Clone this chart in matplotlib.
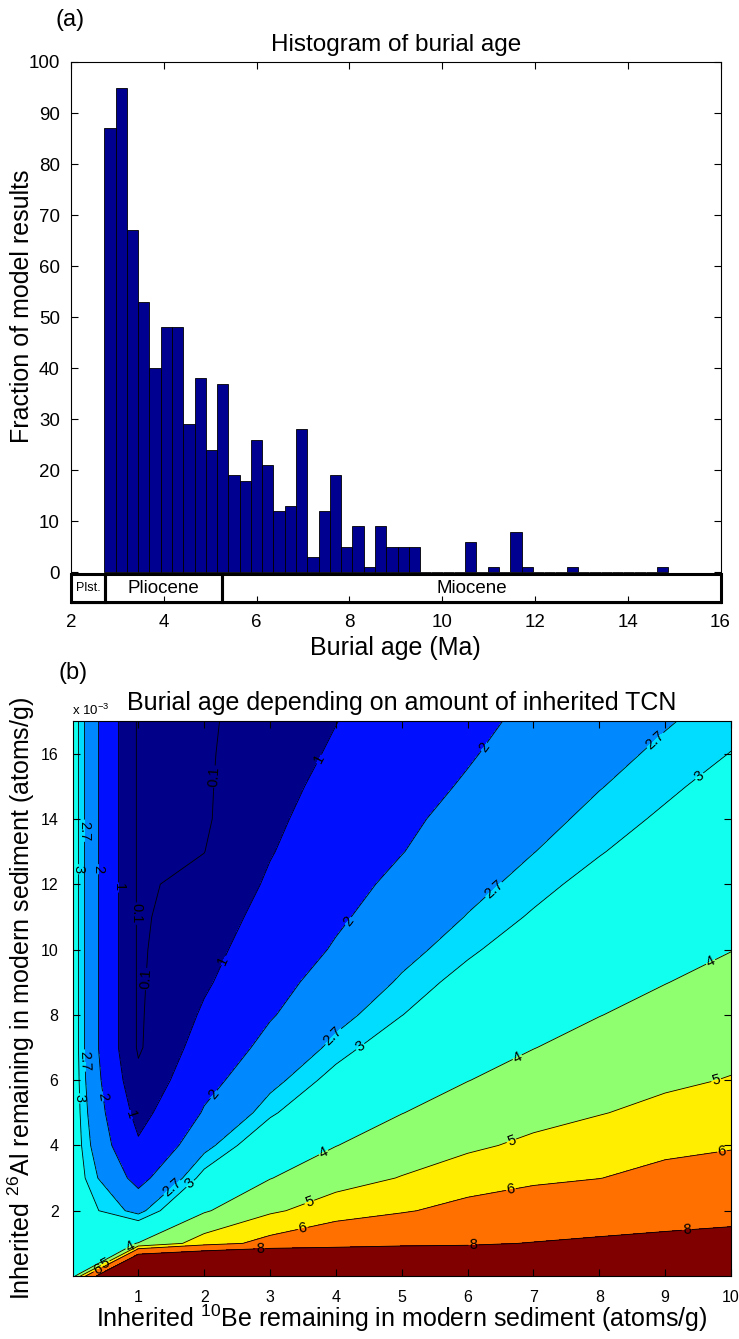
import numpy as np
import matplotlib
matplotlib.use("Agg")
import matplotlib.pyplot as plt
from matplotlib.patches import Rectangle

plt.rcParams['font.family'] = ['Liberation Sans', 'DejaVu Sans']
plt.rcParams['mathtext.fontset'] = 'custom'
plt.rcParams['mathtext.rm'] = 'Liberation Sans'
plt.rcParams['mathtext.it'] = 'Liberation Sans:italic'

# ---- (a) histogram of burial age ----
bin_start = 2.718
bin_width = 0.2431
counts = [87, 95, 67, 53, 40, 48, 48, 29, 38, 24,
          37, 19, 18, 26, 21, 12, 13, 28, 3, 12,
          19, 5, 9, 1, 9, 5, 5, 5, 0, 0,
          0, 0, 6, 0, 1, 0, 8, 1, 0, 0,
          0, 1, 0, 0, 0, 0, 0, 0, 0, 1]
epochs = ['Plst.', 'Pliocene', 'Miocene']
epoch_bounds = [2.0, 2.73, 5.26, 16.0]

# ---- (b) burial age vs inherited TCN ----
be_inh = [0, 1, 2, 3, 4, 5, 6, 7, 8, 9, 10]            # atoms/g
al_inh = [0, 1, 2, 3, 4, 5, 6, 7, 8, 9, 10, 11, 12, 13,
          14, 15, 16, 17]                               # x 1e-3 atoms/g
burial_age = [
    [3.5, 16.0, 16.5, 17.0, 14.6, 13.3, 10.7, 10.5, 10.5, 10.5, 10.5],
    [3.3, 4.03, 5.47, 6.37, 7.10, 7.54, 7.83, 8.05, 8.23, 8.37, 8.48],
    [3.3, 2.55, 3.90, 4.85, 5.47, 5.89, 6.37, 6.78, 7.10, 7.35, 7.54],
    [3.3, 1.74, 3.17, 3.97, 4.64, 5.04, 5.47, 5.77, 5.98, 6.37, 6.66],
    [3.3, 1.12, 2.55, 3.44, 3.98, 4.51, 4.85, 5.17, 5.47, 5.71, 5.89],
    [3.3, 0.69, 2.07, 2.92, 3.58, 3.98, 4.43, 4.73, 4.96, 5.23, 5.47],
    [3.3, 0.30, 1.74, 2.55, 3.17, 3.67, 3.98, 4.37, 4.64, 4.85, 5.04],
    [3.3, 0.00, 1.43, 2.23, 2.82, 3.33, 3.72, 3.98, 4.32, 4.57, 4.77],
    [3.3, 0.00, 1.12, 1.94, 2.55, 2.99, 3.44, 3.76, 3.98, 4.28, 4.51],
    [3.3, 0.00, 0.88, 1.74, 2.31, 2.76, 3.17, 3.52, 3.79, 3.98, 4.26],
    [3.3, 0.00, 0.69, 1.53, 2.07, 2.55, 2.92, 3.29, 3.58, 3.81, 3.98],
    [3.3, 0.00, 0.49, 1.33, 1.89, 2.36, 2.72, 3.05, 3.37, 3.63, 3.83],
    [3.3, 0.00, 0.30, 1.12, 1.74, 2.17, 2.55, 2.86, 3.17, 3.44, 3.67],
    [3.3, 0.00, 0.09, 0.95, 1.58, 1.98, 2.39, 2.69, 2.97, 3.26, 3.50],
    [3.3, 0.00, 0.00, 0.82, 1.43, 1.86, 2.23, 2.55, 2.82, 3.07, 3.33],
    [3.3, 0.00, 0.00, 0.69, 1.28, 1.74, 2.07, 2.42, 2.68, 2.92, 3.17],
    [3.3, 0.00, 0.00, 0.56, 1.12, 1.61, 1.94, 2.28, 2.55, 2.79, 3.01],
    [3.3, 0.00, 0.00, 0.43, 0.98, 1.49, 1.84, 2.14, 2.43, 2.66, 2.88],
]
age_levels = [0.1, 1, 2, 2.7, 3, 4, 5, 6, 8]
fill_levels = [-1, 1, 2, 2.7, 3, 4, 5, 6, 8, 30]
fill_colors = ['#000088', '#0010ff', '#0088ff', '#00ddff', '#11ffee',
               '#8fff70', '#ffee00', '#ff7000', '#800000']

fig = plt.figure(figsize=(7.39, 13.39), dpi=100)

# histogram panel
ax1 = fig.add_axes([71 / 739, 1 - 603 / 1339, 649.5 / 739, 541 / 1339])
edges = bin_start + bin_width * np.arange(len(counts))
ax1.bar(edges, counts, width=bin_width, align='edge', color='#000090',
        edgecolor='black', linewidth=0.6)
epoch_fontsize = [9, 13.5, 13.5]
for i, name in enumerate(epochs):
    x0, x1 = epoch_bounds[i], epoch_bounds[i + 1]
    ax1.add_patch(Rectangle((x0, -5.9), x1 - x0, 5.6, fill=False,
                            edgecolor='black', linewidth=2.2, clip_on=False))
    ax1.text((x0 + x1) / 2, -3.1, name, ha='center', va='center',
             fontsize=epoch_fontsize[i])
ax1.set_xlim(2, 16)
ax1.set_ylim(-6, 100)
ax1.set_xticks(np.arange(2, 17, 2))
ax1.set_yticks(np.arange(0, 101, 10))
ax1.tick_params(direction='in', top=True, right=True, length=5,
                labelsize=13.5, pad=8)
ax1.set_title('Histogram of burial age', fontsize=17.5, pad=8)
ax1.set_xlabel('Burial age (Ma)', fontsize=18, va='center')
ax1.xaxis.set_label_coords(0.5, -0.083)
ax1.set_ylabel('Fraction of model results', fontsize=18, va='center')
ax1.yaxis.set_label_coords(-0.075, 0.549)
fig.text(70 / 739, 1 - 20 / 1339, '(a)', fontsize=17, ha='center', va='center')

# contour panel
ax2 = fig.add_axes([72.5 / 739, 1 - 1276 / 1339, 658.5 / 739, 555 / 1339])
ax2.contourf(be_inh, al_inh, burial_age, levels=fill_levels, colors=fill_colors)

# label spots, snapped to the nearest line of that level
label_spots = [
    (0.1, 2.14, 15.3), (0.1, 0.975, 11.1), (0.1, 1.1, 9.1),
    (1, 3.73, 15.85), (1, 2.32, 9.64), (1, 0.85, 4.92), (1, 0.7, 11.9),
    (2, 6.29, 16.15), (2, 4.22, 10.82), (2, 2.16, 5.54), (2, 0.42, 5.49),
    (2, 0.42, 12.46),
    (2.7, 8.9, 16.3), (2.7, 6.39, 11.85), (2.7, 3.99, 7.28), (2.7, 1.53, 2.67),
    (2.7, 0.18, 6.6), (2.7, 0.22, 13.64),
    (3, 9.53, 15.28), (3, 4.39, 6.97), (3, 1.81, 2.77), (3, 0.1, 5.44),
    (3, 0.1, 12.46),
    (4, 9.71, 9.54), (4, 6.75, 6.72), (4, 3.81, 3.79), (4, 0.87, 0.92),
    (5, 9.79, 5.88), (5, 6.7, 3.95), (5, 3.61, 2.2), (5, 0.49, 0.41),
    (6, 9.88, 3.62), (6, 6.67, 2.51), (6, 3.51, 1.33), (6, 0.37, 0.26),
    (8, 9.33, 1.38), (8, 6.09, 0.94), (8, 2.85, 0.82),
]
for lev in age_levels:
    cs = ax2.contour(be_inh, al_inh, burial_age, levels=[lev],
                     colors='black', linewidths=0.6)
    spots = [(x, y) for (l, x, y) in label_spots if l == lev]
    ax2.clabel(cs, manual=spots, fmt='%g', fontsize=10.5,
               inline=True, inline_spacing=1)

ax2.set_xlim(0, 10)
ax2.set_ylim(0, 17)
ax2.set_xticks(np.arange(1, 11))
ax2.set_yticks(np.arange(2, 17, 2))
ax2.tick_params(direction='in', top=True, right=True, length=5,
                labelsize=11.5, pad=10)
ax2.set_title('Burial age depending on amount of inherited TCN',
              fontsize=18, pad=8)
ax2.text(0, 1.006, r'x 10$^{-3}$', transform=ax2.transAxes, fontsize=9.5,
         va='bottom', ha='left')
ax2.set_xlabel(r'Inherited $^{10}$Be remaining in modern sediment (atoms/g)',
               fontsize=18, va='center')
ax2.xaxis.set_label_coords(0.5, -0.076)
ax2.set_ylabel(r'Inherited $^{26}$Al remaining in modern sediment (atoms/g)',
               fontsize=18, va='center')
ax2.yaxis.set_label_coords(-0.077, 0.5)
fig.text(73 / 739, 1 - 673 / 1339, '(b)', fontsize=17, ha='center', va='center')

fig.savefig('out.png', dpi=100)
